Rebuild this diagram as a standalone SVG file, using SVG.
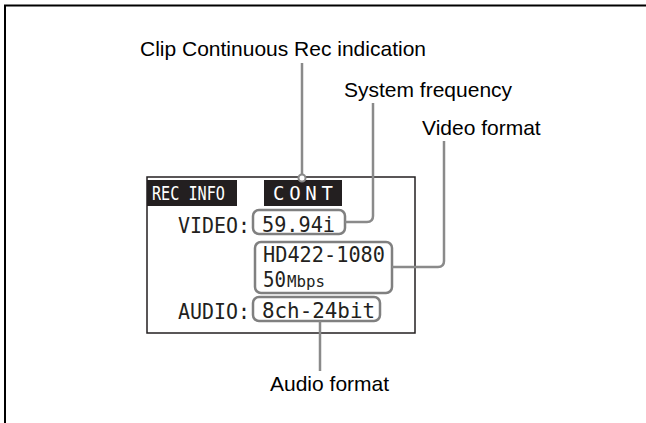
<svg xmlns="http://www.w3.org/2000/svg" width="646" height="423" viewBox="0 0 646 423">
<style>
.lbl{font-family:"Liberation Sans",Arial,sans-serif;font-size:21px;fill:#000}
.lcd{font-family:"DejaVu Sans Mono","Liberation Mono",monospace;fill:#231f20}
.vbox{fill:#fff;stroke:#808080;stroke-width:2.5}
.con{fill:none;stroke:#8a8a8a;stroke-width:2.5}
</style>
<rect width="646" height="423" fill="#fff"/>
<path d="M5,423 V5.5 H646" fill="none" stroke="#000" stroke-width="2"/>
<g id="screen">
<rect x="147" y="177" width="268" height="156" fill="none" stroke="#231f20" stroke-width="1.5"/>
<rect x="147" y="180" width="90" height="26" fill="#231f20"/>
<text class="lcd" x="152" y="200" font-size="19" style="fill:#fff" textLength="73" lengthAdjust="spacingAndGlyphs">REC INFO</text>
</g>
<g id="cont">
<rect x="264" y="180" width="78" height="26" fill="#231f20"/>
<text class="lcd" x="273" y="200" font-size="19" style="fill:#fff" textLength="60" lengthAdjust="spacing">CONT</text>
</g>
<g id="video">
<text class="lcd" x="178" y="233" font-size="22" textLength="72" lengthAdjust="spacingAndGlyphs">VIDEO:</text>
<rect class="vbox" x="253" y="210" width="92" height="24" rx="6"/>
<text class="lcd" x="262" y="232" font-size="22" textLength="73" lengthAdjust="spacingAndGlyphs">59.94i</text>
</g>
<g id="format">
<rect class="vbox" x="255" y="242" width="137" height="51" rx="6"/>
<text class="lcd" x="263" y="262" font-size="22" textLength="122" lengthAdjust="spacingAndGlyphs">HD422-1080</text>
<text class="lcd" x="263" y="287" font-size="22" textLength="23" lengthAdjust="spacingAndGlyphs">50</text>
<text class="lcd" x="287" y="287" font-size="15" textLength="38" lengthAdjust="spacingAndGlyphs">Mbps</text>
</g>
<g id="audio">
<text class="lcd" x="178" y="319" font-size="22" textLength="72" lengthAdjust="spacingAndGlyphs">AUDIO:</text>
<rect class="vbox" x="253" y="297" width="127" height="24" rx="6"/>
<text class="lcd" x="262" y="318" font-size="22" textLength="113" lengthAdjust="spacingAndGlyphs">8ch-24bit</text>
</g>
<g id="labels">
<text class="lbl" x="140" y="56">Clip Continuous Rec indication</text>
<text class="lbl" x="344" y="97">System frequency</text>
<text class="lbl" x="422" y="135">Video format</text>
<text class="lbl" x="270" y="391">Audio format</text>
</g>
<g id="connectors">
<path class="con" d="M302,63 V175"/>
<circle cx="302" cy="178" r="3.5" fill="#fff" stroke="#8a8a8a" stroke-width="2"/>
<path class="con" d="M373,103 V216 Q373,222 367,222 H345"/>
<path class="con" d="M444,141 V261 Q444,267 438,267 H392"/>
<path class="con" d="M320,321 V371"/>
</g>
</svg>
